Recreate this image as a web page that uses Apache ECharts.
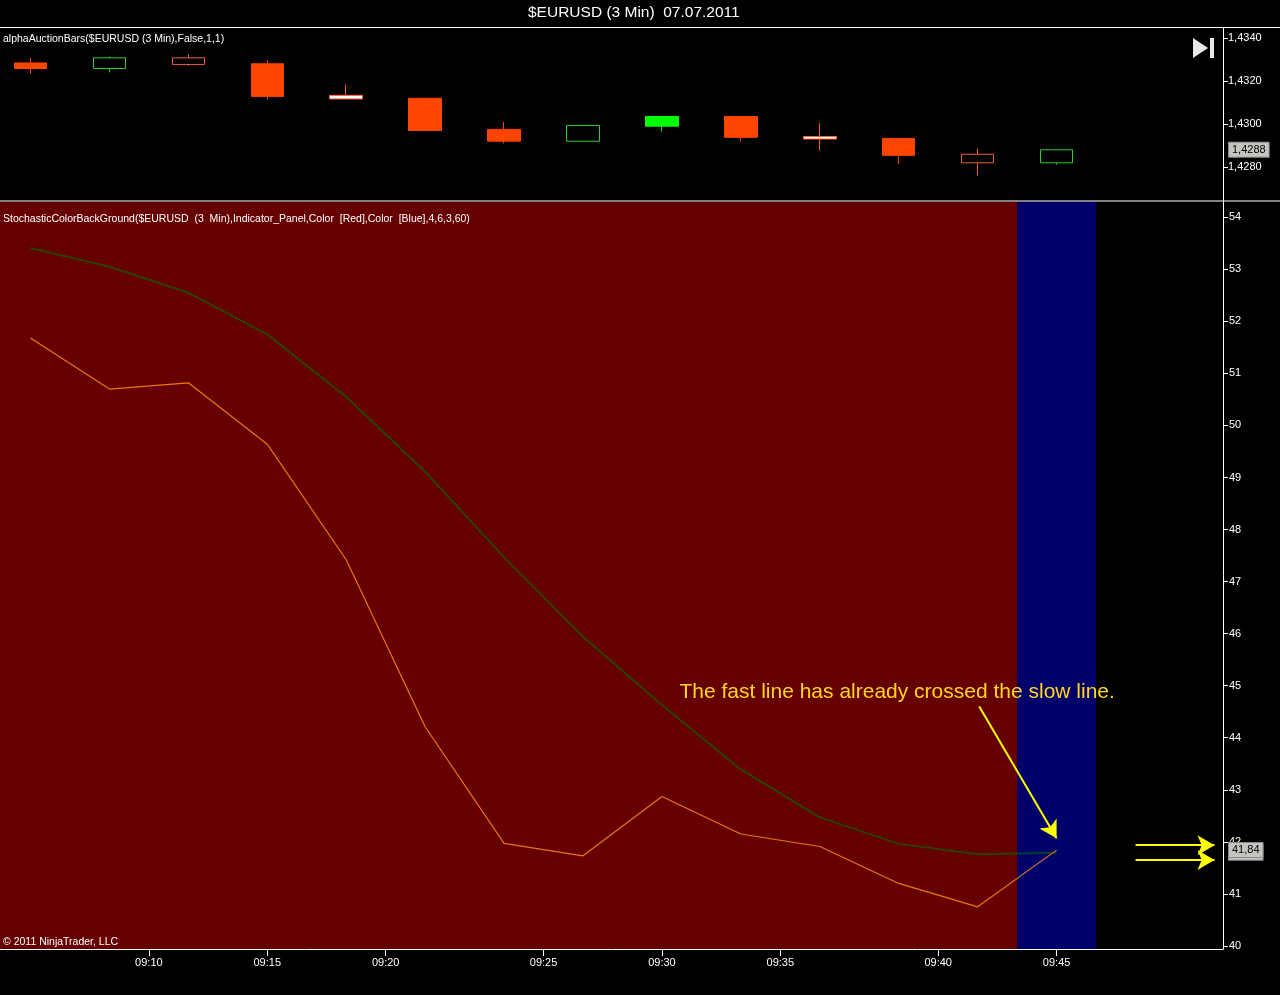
<!DOCTYPE html>
<html>
<head>
<meta charset="utf-8">
<title>$EURUSD (3 Min) 07.07.2011</title>
<script src="https://cdn.jsdelivr.net/npm/echarts@6/dist/echarts.min.js"></script>
<style>
  html, body { margin: 0; padding: 0; background: #000; }
  #main { width: 1280px; height: 995px; }
</style>
</head>
<body>
<div id="main"></div>
<script>
// price bars, 3 min, one row per bar: [open, close, low, high]
var bars = [
  [1.43285, 1.43259, 1.43234, 1.43309],
  [1.43259, 1.43309, 1.43241, 1.43315],
  [1.43309, 1.43278, 1.43272, 1.43324],
  [1.43281, 1.43129, 1.43114, 1.43299],
  [1.43134, 1.43117, 1.43117, 1.43185],
  [1.43120, 1.42970, 1.42970, 1.43120],
  [1.42975, 1.42920, 1.42910, 1.43009],
  [1.42920, 1.42993, 1.42920, 1.42993],
  [1.42990, 1.43035, 1.42966, 1.43035],
  [1.43035, 1.42938, 1.42919, 1.43035],
  [1.42942, 1.42930, 1.42876, 1.43004],
  [1.42933, 1.42854, 1.42814, 1.42933],
  [1.42859, 1.42819, 1.42760, 1.42884],
  [1.42819, 1.42880, 1.42811, 1.42880]
];
// how alphaAuctionBars paints each bar
var barKind = ['downFill', 'upHollow', 'downHollow', 'downFill', 'flat', 'downFill', 'downFill',
               'upHollow', 'upFill', 'downFill', 'flat', 'downFill', 'downHollow', 'upHollow'];

// stochastic lines
var slowLine = [53.41, 53.05, 52.55, 51.75, 50.55, 49.11, 47.47, 45.94, 44.63, 43.39, 42.47, 41.96, 41.76, 41.79];
var fastLine = [51.68, 50.70, 50.82, 49.64, 47.42, 44.21, 41.97, 41.73, 42.87, 42.15, 41.91, 41.20, 40.75, 41.84];
// background state per bar
var bgState = ['red', 'red', 'red', 'red', 'red', 'red', 'red', 'red', 'red', 'red', 'red', 'red', 'red', 'blue'];

// axis ticks
var timeLabels = ['09:10', '09:15', '09:20', '09:25', '09:30', '09:35', '09:40', '09:45'];
var timeLabelPos = [1.5, 3, 4.5, 6.5, 8, 9.5, 11.5, 13];
var priceTicks = [1.428, 1.430, 1.432, 1.434];
var stochTicks = [40, 41, 42, 43, 44, 45, 46, 47, 48, 49, 50, 51, 52, 53, 54];

var FONT = 'Liberation Sans';
var kindStyle = {
  downFill:   { fill: '#FF4500', border: '#FF4500' },
  upFill:     { fill: '#00FF00', border: '#00FF00' },
  upHollow:   { fill: 'rgba(0,0,0,0)', border: '#32CD32' },
  downHollow: { fill: 'rgba(0,0,0,0)', border: '#E8603C' },
  flat:       { fill: '#FFFFFF', border: '#FF5A2A' }
};
var bgColor = { red: '#660000', blue: '#00006A' };

var candleData = bars.map(function (b, i) {
  var s = kindStyle[barKind[i]];
  return {
    value: [i, b[0], b[1], b[2], b[3]],
    itemStyle: { color: s.fill, color0: s.fill, borderColor: s.border, borderColor0: s.border, borderWidth: 1 }
  };
});
var slowData = slowLine.map(function (v, i) { return [i, v]; });
var fastData = fastLine.map(function (v, i) { return [i, v]; });

// one area per run of bars with the same colour, so no seams between bars
var bgAreas = [];
bgState.forEach(function (s, i) {
  var last = bgAreas[bgAreas.length - 1];
  if (last && last.state === s) {
    last.to = i + 0.5;
  } else {
    bgAreas.push({ state: s, from: i - 0.5, to: i + 0.5 });
  }
});
bgAreas = bgAreas.map(function (r) {
  return [{ xAxis: r.from, itemStyle: { color: bgColor[r.state] } }, { xAxis: r.to }];
});

var lastClose = bars[bars.length - 1][1];
var lastFast = fastLine[fastLine.length - 1];
var lastSlow = slowLine[slowLine.length - 1];

function comma(v, d) { return v.toFixed(d).replace('.', ','); }

// invisible horizontal line that only shows its value box on the price axis
function lastValueLine(val, digits) {
  return {
    silent: true,
    symbol: 'none',
    precision: 6,
    lineStyle: { color: 'rgba(0,0,0,0)', width: 0 },
    label: {
      show: true, position: 'end', distance: 6, formatter: comma(val, digits),
      color: '#000', backgroundColor: '#C4C4C0', borderColor: '#8a8a8a', borderWidth: 1,
      padding: [2, 3, 1, 3], fontSize: 11, fontFamily: FONT
    },
    data: [{ yAxis: val }]
  };
}

var xMin = -0.386, xMax = 15.108;
var yellow = '#FFFF00';

var myChart = echarts.init(document.getElementById('main'));
var option = {
  backgroundColor: '#000',
  animation: false,
  title: [
    { text: '$EURUSD (3 Min)  07.07.2011', left: 528, top: 5, padding: 0,
      textStyle: { color: '#fff', fontSize: 15.5, fontWeight: 'normal', fontFamily: FONT } },
    { text: 'alphaAuctionBars($EURUSD (3 Min),False,1,1)', left: 3, top: 34, padding: 0,
      textStyle: { color: '#fff', fontSize: 10.5, fontWeight: 'normal', fontFamily: FONT } },
    { text: 'StochasticColorBackGround($EURUSD  (3  Min),Indicator_Panel,Color  [Red],Color  [Blue],4,6,3,60)', left: 3, top: 214, padding: 0,
      textStyle: { color: '#fff', fontSize: 10.5, fontWeight: 'normal', fontFamily: FONT } }
  ],
  grid: [
    { left: 0, right: 57, top: 28, height: 173 },
    { left: 0, right: 57, top: 202, height: 747 }
  ],
  xAxis: [
    { gridIndex: 0, type: 'value', min: xMin, max: xMax, show: false },
    { gridIndex: 1, type: 'value', min: xMin, max: xMax,
      axisLine: { show: true, onZero: false, lineStyle: { color: '#fff', width: 1 } },
      axisTick: { show: true, customValues: timeLabelPos, length: 7, lineStyle: { color: '#fff' } },
      axisLabel: { customValues: timeLabelPos, color: '#fff', fontSize: 11, fontFamily: FONT, margin: 8,
        formatter: function (v) {
          for (var k = 0; k < timeLabelPos.length; k++) {
            if (Math.abs(timeLabelPos[k] - v) < 1e-6) return timeLabels[k];
          }
          return '';
        } },
      splitLine: { show: false } }
  ],
  yAxis: [
    { gridIndex: 0, type: 'value', position: 'right', min: 1.42641, max: 1.43448,
      axisLine: { show: true, onZero: false, lineStyle: { color: '#fff', width: 1 } },
      axisTick: { show: true, customValues: priceTicks, length: 5, lineStyle: { color: '#fff' } },
      axisLabel: { customValues: priceTicks, color: '#fff', fontSize: 11, fontFamily: FONT, margin: 5,
        formatter: function (v) { return comma(v, 4); } },
      splitLine: { show: false } },
    { gridIndex: 1, type: 'value', position: 'right', min: 39.94, max: 54.294,
      axisLine: { show: true, onZero: false, lineStyle: { color: '#fff', width: 1 } },
      axisTick: { show: true, customValues: stochTicks, length: 5, lineStyle: { color: '#fff' } },
      axisLabel: { customValues: stochTicks, color: '#fff', fontSize: 11, fontFamily: FONT, margin: 6 },
      splitLine: { show: false } }
  ],
  series: [
    {
      name: 'alphaAuctionBars', type: 'candlestick', xAxisIndex: 0, yAxisIndex: 0,
      encode: { x: 0, y: [1, 2, 3, 4] },
      barWidth: 33,
      data: candleData
    },
    {
      // last price box on the price axis
      name: 'LastPrice', type: 'line', xAxisIndex: 0, yAxisIndex: 0, data: [], z: 6,
      markLine: lastValueLine(lastClose, 4)
    },
    {
      name: 'Slow', type: 'line', xAxisIndex: 1, yAxisIndex: 1,
      data: slowData, showSymbol: false, z: 3,
      lineStyle: { color: 'rgba(0,110,0,0.6)', width: 2 },
      markArea: { silent: true, data: bgAreas },
      markLine: lastValueLine(lastSlow, 2)
    },
    {
      name: 'Fast', type: 'line', xAxisIndex: 1, yAxisIndex: 1,
      data: fastData, showSymbol: false, z: 4,
      lineStyle: { color: 'rgba(255,140,20,0.85)', width: 1.2 },
      markLine: lastValueLine(lastFast, 2)
    },
    {
      // annotation arrows and note
      name: 'Note', type: 'line', xAxisIndex: 1, yAxisIndex: 1, data: [], z: 6,
      markLine: {
        silent: true,
        symbol: ['none', 'arrow'],
        symbolSize: [15, 17],
        precision: 6,
        lineStyle: { color: yellow, width: 2, type: 'solid', opacity: 1 },
        label: { show: false },
        data: [
          [{ coord: [12.02, 44.6] }, { coord: [13.0, 42.07] }],
          [{ coord: [14.0, 41.935] }, { coord: [15.0, 41.935] }],
          [{ coord: [14.0, 41.652] }, { coord: [15.0, 41.652] }]
        ]
      },
      markPoint: {
        silent: true,
        symbol: 'circle', symbolSize: 1,
        itemStyle: { color: 'rgba(0,0,0,0)' },
        label: { show: true, position: 'inside', color: '#FFD71E', fontSize: 21, fontFamily: FONT,
          formatter: 'The fast line has already crossed the slow line.' },
        data: [{ coord: [10.98, 44.87] }]
      }
    }
  ],
  graphic: [
    { type: 'line', shape: { x1: 0, y1: 27.5, x2: 1280, y2: 27.5 }, style: { stroke: '#fff', lineWidth: 1 }, z: 10 },
    { type: 'line', shape: { x1: 0, y1: 201, x2: 1280, y2: 201 }, style: { stroke: '#fff', lineWidth: 1 }, z: 10 },
    { type: 'polygon', shape: { points: [[1193, 38], [1193, 58], [1208, 48]] }, style: { fill: '#e8e8e8' }, z: 10 },
    { type: 'rect', shape: { x: 1210, y: 38, width: 4, height: 20 }, style: { fill: '#e8e8e8' }, z: 10 },
    { type: 'text', left: 3, top: 937, z: 10,
      style: { text: '\u00a9 2011 NinjaTrader, LLC', fill: '#fff', font: '10.5px "Liberation Sans"' } }
  ]
};
myChart.setOption(option);
</script>
</body>
</html>
